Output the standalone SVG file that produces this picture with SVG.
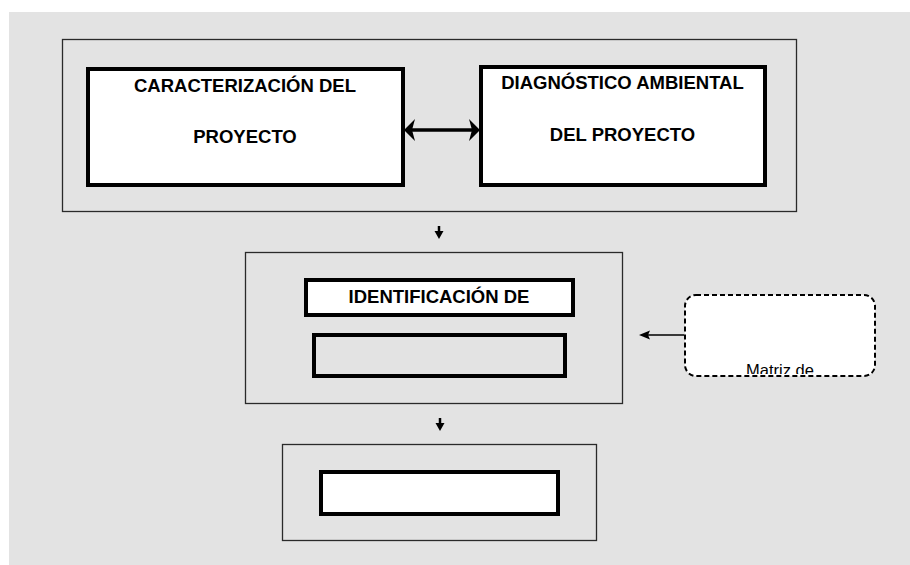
<svg xmlns="http://www.w3.org/2000/svg" width="910" height="565" viewBox="0 0 910 565">
<style>
.frame{fill:none;stroke:#2a2a2a;stroke-width:1.3}
.box{fill:#fff;stroke:#000;stroke-width:4}
.boxg{fill:none;stroke:#000;stroke-width:4}
.t{font-family:"Liberation Sans",Arial,sans-serif;font-weight:bold;font-size:18.5px;fill:#000;text-anchor:middle}
.r{font-family:"Liberation Sans",Arial,sans-serif;font-size:16.5px;fill:#000;text-anchor:middle}
</style>
<defs>
<clipPath id="clipM"><rect x="686" y="296" width="188" height="78"/></clipPath>
</defs>
<rect x="0" y="0" width="910" height="565" fill="#fff"/>
<rect x="9" y="12" width="901" height="553" fill="#e3e3e3"/>
<g id="frame1"><rect class="frame" x="62.5" y="39.5" width="734" height="172"/></g>
<g id="frame2"><rect class="frame" x="245.5" y="252.5" width="377" height="151"/></g>
<g id="frame3"><rect class="frame" x="282.5" y="444.5" width="314" height="96"/></g>
<g id="caracterizacion">
<rect class="box" x="88" y="69" width="315" height="116"/>
<text class="t" x="245" y="92">CARACTERIZACIÓN DEL</text>
<text class="t" x="245" y="143">PROYECTO</text>
</g>
<g id="diagnostico">
<rect class="box" x="481" y="67" width="284" height="118"/>
<text class="t" x="622.5" y="89">DIAGNÓSTICO AMBIENTAL</text>
<text class="t" x="622.5" y="141">DEL PROYECTO</text>
</g>
<g id="identificacion">
<rect class="box" x="306" y="280" width="267" height="35"/>
<text class="t" x="439" y="303">IDENTIFICACIÓN DE</text>
</g>
<g id="empty1"><rect class="boxg" x="314" y="335" width="251" height="41"/></g>
<g id="empty2"><rect class="box" x="321" y="472" width="237" height="42"/></g>
<g id="matriz">
<rect x="685" y="295" width="190" height="81" rx="11" fill="#fff" stroke="#000" stroke-width="2" stroke-dasharray="5 3"/>
<text class="r" x="780" y="376" clip-path="url(#clipM)">Matriz de</text>
</g>
<g id="connectors">
<line x1="412" y1="130" x2="472" y2="130" stroke="#000" stroke-width="3.5"/>
<path d="M404,130 L415,119 L412,130 L415,141 Z" fill="#000"/>
<path d="M480,130 L469,119 L472,130 L469,141 Z" fill="#000"/>
<line x1="439" y1="226" x2="439" y2="233" stroke="#000" stroke-width="2.5"/>
<path d="M434.5,231 L443.5,231 L439,239 Z" fill="#000"/>
<line x1="440" y1="418" x2="440" y2="425" stroke="#000" stroke-width="2.5"/>
<path d="M435.5,423 L444.5,423 L440,431 Z" fill="#000"/>
<line x1="684" y1="335" x2="647" y2="335" stroke="#000" stroke-width="1.5"/>
<path d="M639,335 L650,330.5 L648,335 L650,339.5 Z" fill="#000"/>
</g>
</svg>
